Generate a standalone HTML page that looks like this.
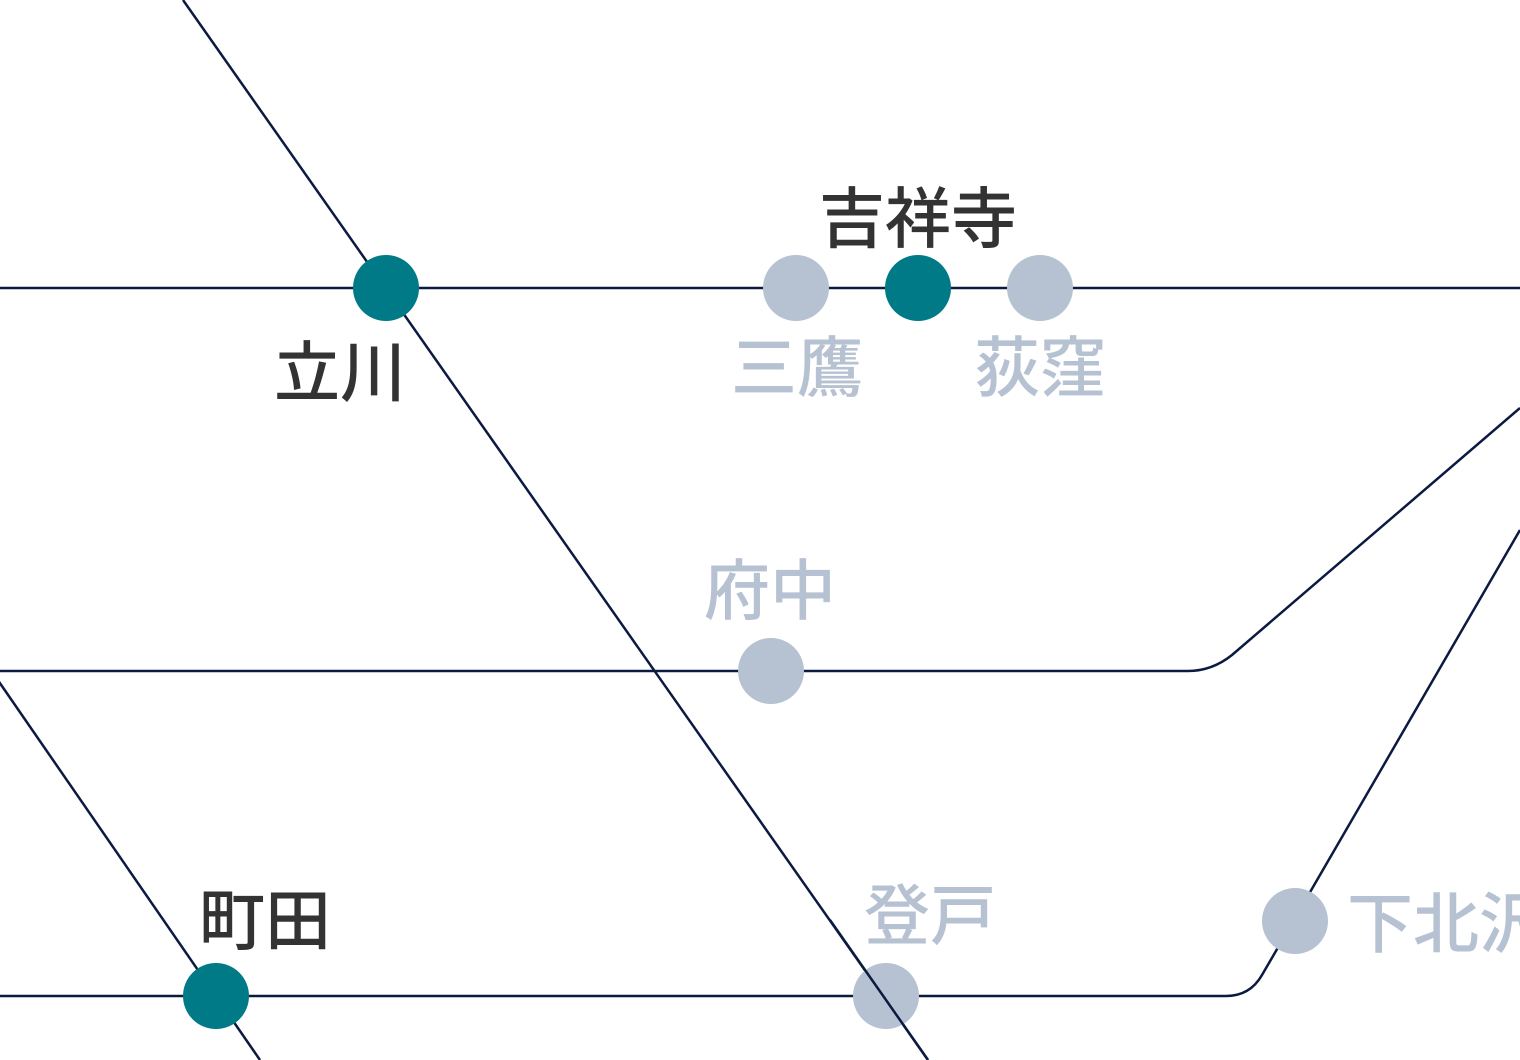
<!DOCTYPE html>
<html><head><meta charset="utf-8"><style>
html,body{margin:0;padding:0;background:#fff;width:1520px;height:1060px;overflow:hidden}
text{font-family:"Liberation Sans","Noto Sans CJK JP",sans-serif;font-size:66px;font-weight:500}
.d{fill:#333}.g{fill:#B6C2D2}
</style></head><body>
<svg width="1520" height="1060" viewBox="0 0 1520 1060" xmlns="http://www.w3.org/2000/svg">
<g fill="none" stroke="#0B1A40" stroke-width="2.5">
<line x1="183" y1="0" x2="928" y2="1060"/>
<line x1="-5" y1="676" x2="260" y2="1060"/>
<line x1="0" y1="288" x2="1520" y2="288"/>
<path d="M0 671 H1188 Q1212 671 1232 655 L1520 408"/>
<path d="M0 996 H1226 Q1250 996 1262 975 L1520 530"/>
</g>
<g fill="#007A87">
<circle cx="386" cy="288" r="33"/>
<circle cx="918" cy="288" r="33"/>
<circle cx="216" cy="996" r="33"/>
</g>
<g fill="#B6C2D2">
<circle cx="796" cy="288" r="33"/>
<circle cx="1040" cy="288" r="33"/>
<circle cx="771" cy="671" r="33"/>
<circle cx="886" cy="996" r="33"/>
<circle cx="1295" cy="921" r="33"/>
</g>
<g fill="none" stroke="#0B1A40" stroke-width="2.5">
<line x1="830" y1="920" x2="928" y2="1060"/>
</g>
<text class="d" x="918" y="242" text-anchor="middle">吉祥寺</text>
<text class="d" x="340" y="396" text-anchor="middle">立川</text>
<text class="g" x="797" y="391" text-anchor="middle">三鷹</text>
<text class="g" x="1040" y="391" text-anchor="middle">荻窪</text>
<text class="g" x="770" y="614" text-anchor="middle">府中</text>
<text class="d" x="265" y="944" text-anchor="middle">町田</text>
<text class="g" x="930" y="939" text-anchor="middle">登戸</text>
<text class="g" x="1347" y="947">下北沢</text>
</svg>
</body></html>
